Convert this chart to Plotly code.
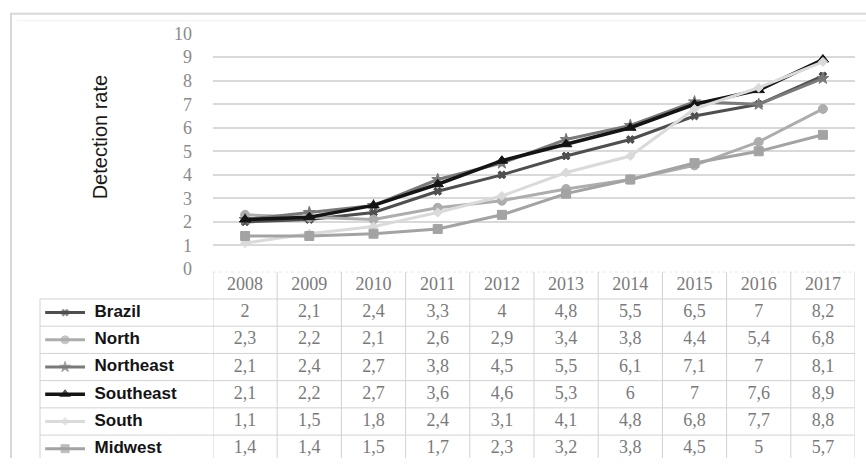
import plotly.graph_objects as go

W, H = 866, 468

years = [2008, 2009, 2010, 2011, 2012, 2013, 2014, 2015, 2016, 2017]
series_names = ["Brazil", "North", "Northeast", "Southeast", "South", "Midwest"]
brazil = [2, 2.1, 2.4, 3.3, 4, 4.8, 5.5, 6.5, 7, 8.2]
north = [2.3, 2.2, 2.1, 2.6, 2.9, 3.4, 3.8, 4.4, 5.4, 6.8]
northeast = [2.1, 2.4, 2.7, 3.8, 4.5, 5.5, 6.1, 7.1, 7, 8.1]
southeast = [2.1, 2.2, 2.7, 3.6, 4.6, 5.3, 6, 7, 7.6, 8.9]
south = [1.1, 1.5, 1.8, 2.4, 3.1, 4.1, 4.8, 6.8, 7.7, 8.8]
midwest = [1.4, 1.4, 1.5, 1.7, 2.3, 3.2, 3.8, 4.5, 5, 5.7]
y_ticks = [0, 1, 2, 3, 4, 5, 6, 7, 8, 9, 10]
y_title = "Detection rate"

values = [brazil, north, northeast, southeast, south, midwest]
styles = [
    dict(color="#4f4f4f", symbol="x", size=7, width=3),
    dict(color="#adadad", symbol="circle", size=9, width=3),
    dict(color="#7a7a7a", symbol="star", size=9, width=3),
    dict(color="#141414", symbol="triangle-up", size=10, width=3.5),
    dict(color="#dadada", symbol="diamond", size=7, width=3),
    dict(color="#a3a3a3", symbol="square", size=9, width=3),
]

# observed page rendering: figure drawn at top offset ~9.3px, vertical scale ~0.96
Y_OFF, Y_SCALE = 9.3, 0.96

def px_x(p):
    return p / W

def dy(p):
    return (p - Y_OFF) / Y_SCALE

def px_y(p):
    return 1 - dy(p) / H

PLOT_L, PLOT_R = 213, 855
PLOT_T, PLOT_B = 33, 269
TABLE_T = 271.8
ROW_H = 27.3
LABEL_L = 40

fig = go.Figure()

for name, vals, st in zip(series_names, values, styles):
    fig.add_trace(go.Scatter(
        x=years, y=vals, mode="lines+markers", name=name,
        line=dict(color=st["color"], width=st["width"]),
        marker=dict(color=st["color"], symbol=st["symbol"], size=st["size"],
                    line=dict(color=st["color"], width=1)),
        xaxis="x", yaxis="y", showlegend=False, hoverinfo="skip"))

def fmt(v):
    s = ("%g" % v)
    return s.replace(".", ",")

val_font = dict(family="Liberation Serif", size=18, color="#7a7a7a")

fig.add_trace(go.Scatter(
    x=years, y=[0] * len(years), mode="text", text=[str(y) for y in years],
    textfont=val_font, xaxis="x2", yaxis="y2", showlegend=False, hoverinfo="skip"))

for i, vals in enumerate(values):
    fig.add_trace(go.Scatter(
        x=years, y=[i + 1] * len(years), mode="text", text=[fmt(v) for v in vals],
        textfont=val_font, xaxis="x2", yaxis="y2", showlegend=False, hoverinfo="skip"))

for i, (name, st) in enumerate(zip(series_names, styles)):
    fig.add_trace(go.Scatter(
        x=[0.03, 0.145, 0.26], y=[i + 1] * 3, mode="lines+markers",
        line=dict(color=st["color"], width=st["width"]),
        marker=dict(color=st["color"], symbol=st["symbol"], size=[0, st["size"] - 1, 0],
                    line=dict(color=st["color"], width=1)),
        xaxis="x3", yaxis="y2", showlegend=False, hoverinfo="skip"))
    fig.add_trace(go.Scatter(
        x=[0.315], y=[i + 1], mode="text", text=["<b>%s</b>" % name], textposition="middle right",
        textfont=dict(family="Liberation Sans", size=17, color="#141414"),
        xaxis="x3", yaxis="y2", showlegend=False, hoverinfo="skip"))

n_rows = 1 + len(series_names)
dom_h = H - dy(TABLE_T)
rows_visible = dom_h / (ROW_H / Y_SCALE)
y2_range = [-0.5 + rows_visible, -0.5]

border = "#d2d2d2"
shapes = []
shapes.append(dict(type="line", xref="paper", yref="paper", x0=px_x(10), x1=1,
                   y0=px_y(13), y1=px_y(13), line=dict(color="#d8d8d8", width=2)))
shapes.append(dict(type="line", xref="paper", yref="paper", x0=px_x(11), x1=px_x(11),
                   y0=0, y1=px_y(13), line=dict(color="#d8d8d8", width=2)))
shapes.append(dict(type="line", xref="paper", yref="paper", x0=px_x(17), x1=1,
                   y0=px_y(20), y1=px_y(20), line=dict(color="#f0f0f0", width=1)))

for b in range(n_rows):
    if b == 0:
        shapes.append(dict(type="line", xref="x2", yref="y2", x0=years[0] - 0.5, x1=years[-1] + 0.5,
                           y0=-0.5, y1=-0.5, line=dict(color="#cfcfcf", width=1, dash="dot")))
    else:
        shapes.append(dict(type="line", xref="paper", yref="y2", x0=px_x(LABEL_L), x1=px_x(PLOT_R),
                           y0=b - 0.5, y1=b - 0.5, line=dict(color=border, width=1)))
shapes.append(dict(type="line", xref="paper", yref="y2", x0=px_x(LABEL_L), x1=px_x(PLOT_R),
                   y0=n_rows - 0.5, y1=n_rows - 0.5, line=dict(color=border, width=1)))
for k in range(len(years) + 1):
    xv = years[0] - 0.5 + k
    shapes.append(dict(type="line", xref="x2", yref="y2", x0=xv, x1=xv,
                       y0=-0.5, y1=n_rows - 0.5, line=dict(color=border, width=1)))
shapes.append(dict(type="line", xref="paper", yref="y2", x0=px_x(LABEL_L), x1=px_x(LABEL_L),
                   y0=0.5, y1=n_rows - 0.5, line=dict(color=border, width=1)))

fig.update_layout(
    width=W, height=H,
    margin=dict(l=0, r=0, t=0, b=0),
    paper_bgcolor="white", plot_bgcolor="rgba(0,0,0,0)",
    shapes=shapes,
    xaxis=dict(domain=[px_x(PLOT_L), px_x(PLOT_R)], range=[years[0] - 0.5, years[-1] + 0.5],
               showticklabels=False, showgrid=False, zeroline=False, anchor="y", fixedrange=True),
    yaxis=dict(domain=[px_y(PLOT_B), px_y(PLOT_T)], range=[0, 10], tickvals=y_ticks,
               showgrid=True, gridcolor="#d9d9d9", gridwidth=1.5, zeroline=False,
               tickfont=dict(family="Liberation Serif", size=18, color="#8a8a8a"),
               ticklabelstandoff=20, anchor="x", fixedrange=True),
    xaxis2=dict(domain=[px_x(PLOT_L), px_x(PLOT_R)], range=[years[0] - 0.5, years[-1] + 0.5],
                visible=False, anchor="y2", fixedrange=True),
    yaxis2=dict(domain=[0, px_y(TABLE_T)], range=y2_range, visible=False, anchor="x2", fixedrange=True),
    xaxis3=dict(domain=[px_x(LABEL_L), px_x(PLOT_L)], range=[0, 1], visible=False, anchor="y2",
                fixedrange=True),
    annotations=[dict(text=y_title, xref="paper", yref="paper", x=px_x(100), y=px_y(137),
                      xanchor="center", yanchor="middle",
                      textangle=-90, showarrow=False,
                      font=dict(family="Liberation Sans", size=20, color="#1a1a1a"))],
)

post = ("document.body.style.margin='0';document.body.style.overflow='hidden';"
        "document.documentElement.style.background="
        "'linear-gradient(to bottom, #465a72 0px, #465a72 10px, #ffffff 10px) no-repeat';"
        "document.body.style.background='transparent';")
fig.write_html("out.html", post_script=post, config={"displayModeBar": False})
